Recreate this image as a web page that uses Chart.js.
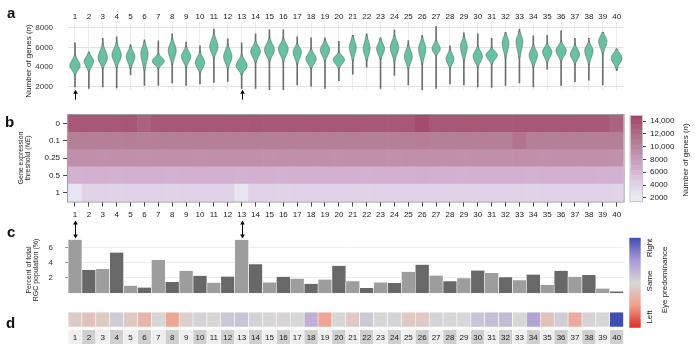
<!DOCTYPE html>
<html><head><meta charset="utf-8">
<script src="https://cdn.jsdelivr.net/npm/chart.js@4.4.1/dist/chart.umd.min.js"></script>
<style>
html,body{margin:0;padding:0;background:#fff;}
#wrap{position:relative;width:695px;height:355px;overflow:hidden;font-family:'Liberation Sans',Arial,Helvetica,sans-serif;color:#222;}
canvas{position:absolute;}
.t{position:absolute;white-space:nowrap;transform:translate(-50%,-50%) rotate(-90deg);text-align:center;color:#222;}
.p{position:absolute;font-weight:bold;font-size:15px;line-height:15px;color:#111;}
</style></head><body>
<div id="wrap">
<canvas id="cA" width="640" height="110" style="left:0px;top:0px"></canvas>
<canvas id="cB" width="640" height="120" style="left:0px;top:105px"></canvas>
<canvas id="cC" width="70" height="105" style="left:625px;top:105px"></canvas>
<canvas id="cD" width="640" height="95" style="left:0px;top:215px"></canvas>
<canvas id="cE" width="640" height="40" style="left:0px;top:308px"></canvas>
<canvas id="cF" width="30" height="105" style="left:625px;top:230px"></canvas>

<div class="p" style="left:7px;top:5px">a</div>
<div class="p" style="left:5px;top:114px">b</div>
<div class="p" style="left:7px;top:224px">c</div>
<div class="p" style="left:6px;top:315px">d</div>

<div class="t" style="left:28.5px;top:61px;font-size:8px;line-height:8px">Number of genes (<i>n</i>)</div>
<div class="t" style="left:24px;top:158px;font-size:7px;line-height:6.5px">Gene expression<br>threshold (<i>NE</i>)</div>
<div class="t" style="left:31.5px;top:270px;font-size:7px;line-height:6.5px">Percent of total<br>RGC population (%)</div>
<div class="t" style="left:686px;top:160px;font-size:8px;line-height:8px">Number of genes (<i>n</i>)</div>
<div class="t" style="left:650px;top:248px;font-size:8px;line-height:8px">Right</div>
<div class="t" style="left:650px;top:281px;font-size:8px;line-height:8px">Same</div>
<div class="t" style="left:650px;top:317px;font-size:8px;line-height:8px">Left</div>
<div class="t" style="left:665px;top:280px;font-size:8px;line-height:8px">Eye predominance</div>
</div>
<script>
// ---------------- DATA ----------------
const clusters = ['1','2','3','4','5','6','7','8','9','10','11','12','13','14','15','16','17','18','19','20',
                  '21','22','23','24','25','26','27','28','29','30','31','32','33','34','35','36','37','38','39','40'];
const highlightedClusters = ['1','13'];

// panel a: violin summaries (number of genes per cell)
const geneMin  = [2000,1850,2000,1900,3230,2150,2150,2370,2150,2300,2460,2550,1850,1850,1700,1650,2200,2060,1850,2620,
                  3290,4000,1850,3170,2200,1540,1850,2300,2200,2000,1940,2150,2400,2000,3790,2150,2520,2680,2200,3630];
const geneLow  = [3380,3700,4000,4150,4000,3850,4000,4460,4150,3540,5080,4000,3380,4620,4770,4770,4460,4000,4770,4000,
                  4770,4770,4920,4770,4000,4460,5230,4000,4770,4150,4460,5080,5080,4150,4620,4770,4460,4460,5540,4000];
const geneMode = [4150,4600,4920,5230,5080,5380,4600,5690,5080,4460,6060,5080,4150,5600,5750,5850,5540,4830,5750,4770,
                  6000,5850,5850,6000,5080,5850,5850,4830,6060,5080,5230,6460,6620,5230,5540,5690,5290,5690,6620,4920];
const geneHigh = [5080,5380,6150,6300,6000,6460,5230,6770,5940,5380,7230,6150,5080,6460,6770,6770,6300,5690,6620,5380,
                  7080,7080,6770,7080,6150,6920,6620,5690,7080,6000,5850,7380,7540,6150,6300,6460,6150,6460,7480,5750];
const geneMax  = [6460,5540,6920,7080,6300,6770,6680,7380,6550,6150,7850,6860,6460,7380,7780,7780,7080,6980,6980,6620,
                  7230,7380,6980,7750,6700,7230,8150,6150,7480,7380,6920,7540,7850,7170,7230,7690,6920,6920,7540,5850];
const violinWidth = [0.74,0.67,0.67,0.67,0.62,0.52,0.87,0.57,0.67,0.67,0.6,0.6,0.8,0.7,0.72,0.7,0.6,0.74,0.67,0.82,
                     0.49,0.49,0.57,0.6,0.57,0.52,0.6,0.57,0.49,0.67,0.82,0.49,0.49,0.6,0.67,0.74,0.67,0.6,0.6,0.77];
const geneAxisTicks = [2000,3000,4000,5000,6000,7000,8000];

// panel b: number of genes detected at each expression threshold
const thresholds = ['0','0.1','0.25','0.5','1'];
const genesNE0   = [13400,13500,13450,13500,13600,12700,13500,13450,13500,13500,13450,13500,13500,13550,13500,13500,13450,13500,13500,13450,
                    13500,13500,13450,13500,13500,14300,13500,13450,13500,13500,13450,13500,13500,13500,13450,13500,13500,13450,13500,12600];
const genesNE01  = [10500,10500,10450,10500,10550,10400,10500,10500,10450,10500,10500,10500,10450,10500,10500,10500,10450,10500,10500,10500,
                    10500,10450,10500,10500,10500,10550,10500,10500,10450,10500,10500,10500,11300,10500,10450,10500,10500,10500,10450,10500];
const genesNE025 = [9000,9000,8950,9000,9000,8950,9000,9000,9000,8950,9000,9000,9000,9000,8950,9000,9000,9000,9000,8950,
                    9000,9000,9000,8950,9000,9050,9000,9000,8950,9000,9000,9000,9000,9000,8950,9000,9000,9000,9000,8950];
const genesNE05  = [6400,6500,6500,6450,6500,6500,6500,6450,6500,6500,6500,6500,6400,6500,6500,6450,6500,6500,6500,6500,
                    6500,6450,6500,6500,6500,6550,6500,6500,6450,6500,6500,6500,6500,6450,6500,6500,6500,6500,6450,6450];
const genesNE1   = [2600,4000,4000,3950,4000,4000,4000,3950,4000,4000,4000,4000,2600,4000,4000,3950,4000,4000,4000,4000,
                    4000,3950,4000,4000,4000,4050,4000,4000,3950,4000,4000,4000,4000,3950,4000,4000,4000,4000,4000,3950];
const geneRows = [genesNE0, genesNE01, genesNE025, genesNE05, genesNE1];
const geneLegendBreaks = [1480,2300,3100,3900,4700,5500,6300,7100,7900,8700,9500,10300,11100,11900,12700,13500,14300,14800];
const geneLegendTicks  = [2000,4000,6000,8000,10000,12000,14000];
const geneLegendLabels = ['2000','4000','6000','8000','10,000','12,000','14,000'];

// panel c: percent of total RGC population
const rgcPercent = [7.0,3.05,3.16,5.34,0.99,0.75,4.36,1.48,2.94,2.28,1.38,2.18,7.0,3.78,1.41,2.14,1.9,1.24,1.79,3.6,
                    1.55,0.68,1.41,1.34,2.8,3.74,2.31,1.55,1.97,2.98,2.66,2.1,1.69,2.45,1.06,2.94,2.14,2.38,0.61,0.23];
const rgcTicks = [2,4,6];

// panel d: eye predominance (-1 = left, 0 = same, 1 = right)
const eyePredominance = [-0.1,-0.18,-0.12,0.1,-0.14,-0.3,0,-0.45,-0.06,0.04,-0.02,0.13,0.15,0.04,0,-0.03,0,0.3,-0.45,0,
                         -0.13,0.12,0,0.03,-0.13,-0.13,0.03,0,0,0.15,0.2,0.22,0,0.42,-0.2,0.08,-0.4,0.03,0,1.0];

// ---------------- STYLE HELPERS ----------------
const FONT = "'Liberation Sans', Arial, Helvetica, sans-serif";
Chart.defaults.font.family = FONT;
Chart.defaults.font.size = 8;
Chart.defaults.color = '#262626';
Chart.defaults.plugins.legend.display = false;
Chart.defaults.plugins.tooltip.enabled = false;

function ramp(stops, v){
  if (v <= stops[0][0]) return stops[0][1];
  for (let i = 1; i < stops.length; i++) {
    if (v <= stops[i][0]) {
      const t = (v - stops[i-1][0]) / (stops[i][0] - stops[i-1][0]);
      const a = stops[i-1][1], b = stops[i][1];
      return [0,1,2].map(k => Math.round(a[k] + (b[k]-a[k])*t));
    }
  }
  return stops[stops.length-1][1];
}
const rgb = c => `rgb(${c[0]},${c[1]},${c[2]})`;
const geneStops = [[1500,[238,235,246]],[2500,[233,229,242]],[4000,[224,211,233]],[6500,[211,176,208]],
                   [9000,[192,144,171]],[10500,[181,127,150]],[13500,[168,87,118]],[15000,[158,66,100]]];
const eyeStops = [[-1,[220,45,38]],[-0.5,[240,160,142]],[0,[215,215,215]],[0.5,[172,152,214]],[1,[62,78,178]]];
const geneColor = v => rgb(ramp(geneStops, v));
const eyeColor = v => rgb(ramp(eyeStops, v));

const LEFT = 68.05, RIGHTPAD = 16.4;
const base = {responsive:false, animation:false, devicePixelRatio:1, events:[]};

function arrow(ctx, x, yTip, yTail, both){
  ctx.save();
  ctx.strokeStyle = '#000'; ctx.fillStyle = '#000'; ctx.lineWidth = 1;
  const hh = 4, hw = 2.3;
  ctx.beginPath(); ctx.moveTo(x, yTip + hh - 0.5); ctx.lineTo(x, both ? yTail - hh + 0.5 : yTail); ctx.stroke();
  ctx.beginPath(); ctx.moveTo(x, yTip); ctx.lineTo(x - hw, yTip + hh); ctx.lineTo(x + hw, yTip + hh); ctx.closePath(); ctx.fill();
  if (both) { ctx.beginPath(); ctx.moveTo(x, yTail); ctx.lineTo(x - hw, yTail - hh); ctx.lineTo(x + hw, yTail - hh); ctx.closePath(); ctx.fill(); }
  ctx.restore();
}

// ---------------- PANEL A : violins ----------------
const violinPlugin = {
  id:'violins',
  afterDatasetsDraw(chart){
    const {ctx, scales:{x, y}} = chart;
    const unit = x.getPixelForValue(1) - x.getPixelForValue(0);
    const sig2 = 2*0.58*0.58;
    ctx.save();
    clusters.forEach((c, i) => {
      const cx = x.getPixelForValue(i);
      const half = violinWidth[i]*unit/2;
      const pTop = y.getPixelForValue(geneMax[i]), pBot = y.getPixelForValue(geneMin[i]);
      const pts = [];
      for (let py = pTop; py <= pBot; py += 0.5) {
        const v = y.getValueForPixel(py);
        const d = v >= geneMode[i] ? (v - geneMode[i])/(geneHigh[i]-geneMode[i]) : (geneMode[i]-v)/(geneMode[i]-geneLow[i]);
        const w = half*Math.exp(-d*d/sig2);
        if (w > 0.5) pts.push([py, w]);
      }
      if (!pts.length) return;
      ctx.beginPath();
      pts.forEach(([py, w], k) => k ? ctx.lineTo(cx + w, py) : ctx.moveTo(cx + w, py));
      for (let k = pts.length - 1; k >= 0; k--) ctx.lineTo(cx - pts[k][1], pts[k][0]);
      ctx.closePath();
      ctx.fillStyle = '#66c2a5'; ctx.fill();
      ctx.strokeStyle = '#4d4d4d'; ctx.lineWidth = 0.5; ctx.stroke();
    });
    ctx.restore();
  },
  afterDraw(chart){
    const {ctx, scales:{x}, chartArea} = chart;
    highlightedClusters.forEach(c => arrow(ctx, Math.round(x.getPixelForValue(clusters.indexOf(c))) + 0.5, chartArea.bottom - 0.5, chartArea.bottom + 9.5, false));
  }
};
new Chart(document.getElementById('cA'), {
  type:'bar',
  data:{labels:clusters, datasets:[{data: clusters.map((c,i)=>[geneMin[i], geneMax[i]]), backgroundColor:'#6e6e6e', barThickness:1, borderWidth:0}]},
  options:{...base,
    layout:{padding:{left:0, right:RIGHTPAD, top:0, bottom:13}},
    scales:{
      x:{position:'top', offset:true, grid:{offset:false, color:'#ebebeb', drawTicks:false}, border:{display:false},
         ticks:{padding:0, maxRotation:0, autoSkip:false, color:'#1a1a1a'}, afterFit(s){ s.height = 22; }},
      y:{min:1658, max:8581, afterBuildTicks(s){ s.ticks = geneAxisTicks.map(v => ({value:v})); },
         grid:{color: c => (c.tick && c.tick.value % 2000 === 0) ? '#e2e2e2' : '#f2f2f2', drawTicks:false}, border:{display:false},
         ticks:{padding:15, color:'#333', callback: v => v % 2000 === 0 ? String(v) : ''}, afterFit(s){ s.width = LEFT; }}
    }
  },
  plugins:[violinPlugin]
});

// ---------------- PANEL B : heatmap ----------------
const framePlugin = color => ({
  id:'frame',
  afterDatasetsDraw(chart){
    const {ctx, chartArea:a} = chart;
    ctx.save(); ctx.strokeStyle = color; ctx.lineWidth = 1;
    ctx.strokeRect(a.left - 0.5, a.top - 0.5, a.right - a.left + 1, a.bottom - a.top + 1);
    ctx.restore();
  }
});
new Chart(document.getElementById('cB'), {
  type:'bar',
  data:{labels:clusters, datasets:[4,3,2,1,0].map(r => ({
    label: thresholds[r], data: clusters.map(() => 1), backgroundColor: geneRows[r].map(geneColor),
    borderWidth:0, barPercentage:1, categoryPercentage:1 }))},
  options:{...base,
    layout:{padding:{left:0, right:RIGHTPAD, top:10, bottom:0}},
    scales:{
      x:{stacked:true, grid:{offset:false, drawOnChartArea:false, tickLength:5, tickColor:'#444'}, border:{display:false},
         ticks:{padding:3, maxRotation:0, autoSkip:false, color:'#1a1a1a'}, afterFit(s){ s.height = 23.5; }},
      y:{stacked:true, min:0, max:5, afterBuildTicks(s){ s.ticks = thresholds.map((t, r) => ({value: 4.5 - r})); },
         grid:{drawOnChartArea:false, tickLength:5, tickColor:'#444'}, border:{display:false},
         ticks:{padding:3, color:'#1a1a1a', callback: v => thresholds[Math.round(4.5 - v)]}, afterFit(s){ s.width = LEFT; }}
    }
  },
  plugins:[framePlugin('#9c9c9c')]
});

// gene-count colour legend
new Chart(document.getElementById('cC'), {
  type:'bar',
  data:{labels:['n'], datasets: geneLegendBreaks.slice(0, -1).map((lo, k) => ({
    data:[[lo, geneLegendBreaks[k+1]]], backgroundColor: geneColor((lo + geneLegendBreaks[k+1])/2),
    grouped:false, barPercentage:1, categoryPercentage:1, borderWidth:0 }))},
  options:{...base,
    layout:{padding:{left:5.5, right:0, top:11, bottom:8.5}},
    scales:{
      x:{display:false},
      y:{position:'right', min:1480, max:14800, afterBuildTicks(s){ s.ticks = geneLegendTicks.map(v => ({value:v})); },
         grid:{drawOnChartArea:false, tickLength:4, tickColor:'#444'}, border:{display:false},
         ticks:{padding:4, color:'#1a1a1a', callback: v => geneLegendLabels[geneLegendTicks.indexOf(v)]}, afterFit(s){ s.width = 53; }}
    }
  },
  plugins:[framePlugin('#c4c4c4')]
});

// ---------------- PANEL C : bars ----------------
new Chart(document.getElementById('cD'), {
  type:'bar',
  data:{labels:clusters, datasets:[{data: rgcPercent,
    backgroundColor: clusters.map((c, i) => i % 2 === 0 ? '#9d9d9d' : '#686868'),
    borderColor:'#ffffff', borderWidth:{left:0.6, right:0.6, top:0, bottom:0}, barPercentage:1, categoryPercentage:1}]},
  options:{...base,
    layout:{padding:{left:0, right:RIGHTPAD, top:22.5, bottom:2.5}},
    scales:{
      x:{display:false},
      y:{min:0, max:7.3, afterBuildTicks(s){ s.ticks = rgcTicks.map(v => ({value:v})); },
         grid:{color:'#ececec', tickLength:3, tickColor:'#9a9a9a'}, border:{display:false},
         ticks:{padding:12, color:'#333', callback: v => String(v)}, afterFit(s){ s.width = LEFT; }}
    }
  },
  plugins:[{
    id:'arrows2',
    afterDraw(chart){
      const {ctx, scales:{x}, chartArea} = chart;
      highlightedClusters.forEach(c => arrow(ctx, Math.round(x.getPixelForValue(clusters.indexOf(c))) + 0.5, 5.5, chartArea.top + 1, true));
    }
  }]
});

// ---------------- PANEL D : eye predominance strip + cluster numbers ----------------
new Chart(document.getElementById('cE'), {
  type:'bar',
  data:{labels:clusters, datasets:[
    {data: clusters.map(() => [0, 1]), backgroundColor: eyePredominance.map(eyeColor),
     borderColor:'#ffffff', borderWidth:{left:0.6, right:0.6, top:0, bottom:0}, borderSkipped:false,
     grouped:false, barPercentage:1, categoryPercentage:1},
    {data: clusters.map(() => [-1.2, -0.22]), backgroundColor: clusters.map((c, i) => i % 2 === 0 ? '#efefef' : '#cfcfcf'),
     borderColor:'#ffffff', borderWidth:{left:0.6, right:0.6, top:0, bottom:0}, borderSkipped:false,
     grouped:false, barPercentage:1, categoryPercentage:1}
  ]},
  options:{...base,
    layout:{padding:{left:LEFT, right:RIGHTPAD, top:4.3, bottom:4}},
    scales:{x:{display:false}, y:{display:false, min:-1.2, max:1}}
  },
  plugins:[{
    id:'numbers',
    afterDatasetsDraw(chart){
      const {ctx, scales:{x, y}} = chart;
      ctx.save(); ctx.font = `8px ${FONT}`; ctx.fillStyle = '#1a1a1a'; ctx.textAlign = 'center'; ctx.textBaseline = 'middle';
      clusters.forEach((c, i) => ctx.fillText(c, x.getPixelForValue(i), y.getPixelForValue(-0.71) + 0.5));
      ctx.restore();
    }
  }]
});

// eye predominance colour legend
const eyeLegendStops = [-1, -0.5, 0, 0.5, 1];
new Chart(document.getElementById('cF'), {
  type:'bar',
  data:{labels:['eye'], datasets:[{data:[[-1, 1]], borderWidth:0, barPercentage:1, categoryPercentage:1,
    backgroundColor: ctx => {
      const ch = ctx.chart; const ys = ch.scales.y;
      if (!ch.chartArea || !ys) return '#d7d7d7';
      const g = ch.ctx.createLinearGradient(0, ys.getPixelForValue(-1), 0, ys.getPixelForValue(1));
      eyeLegendStops.forEach(v => g.addColorStop((v + 1)/2, eyeColor(v)));
      return g;
    }}]},
  options:{...base,
    layout:{padding:{left:4.3, right:14.3, top:7.7, bottom:7.3}},
    scales:{x:{display:false}, y:{display:false, min:-1, max:1}}
  }
});
</script>
</body></html>
